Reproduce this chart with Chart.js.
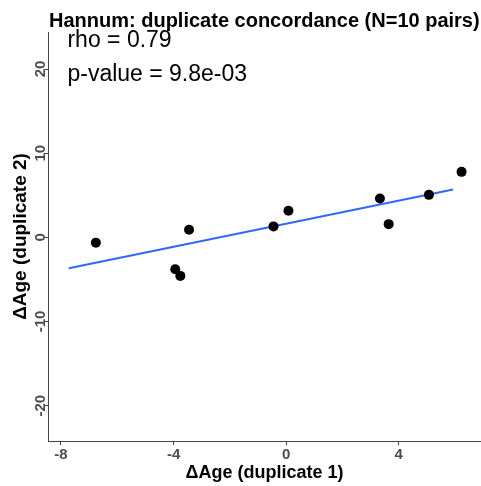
<!DOCTYPE html>
<html>
<head>
<meta charset="utf-8">
<script src="https://cdn.jsdelivr.net/npm/chart.js@4.4.0/dist/chart.umd.min.js"></script>
<style>
  html, body { margin: 0; padding: 0; background: #ffffff; }
  #wrap { width: 481px; height: 486px; }
</style>
</head>
<body>
<div id="wrap"><canvas id="chart" width="481" height="486"></canvas></div>
<script>
// Data
const dup1 = [-6.76, -3.94, -3.76, -3.45, -0.45, 0.08, 3.33, 3.64, 5.07, 6.23];
const dup2 = [-0.63, -3.79, -4.58, 0.91, 1.30, 3.16, 4.62, 1.57, 5.05, 7.78];
const fitX = [-7.72, 5.93];
const fitY = [-3.67, 5.68];
const xTicks = [-8, -4, 0, 4];
const yTicks = [-20, -10, 0, 10, 20];
const titleText = 'Hannum: duplicate concordance (N=10 pairs)';
const statLines = ['rho = 0.79', 'p-value = 9.8e-03'];
const statPos = [[-7.77, 22.6], [-7.77, 18.6]];

const FONT = '"Liberation Sans", Arial, sans-serif';

// Title, annotations and rotated y tick labels
const extrasPlugin = {
    id: 'extras',
    afterDraw(chart) {
        const ctx = chart.ctx;
        const area = chart.chartArea;
        const xs = chart.scales.x;
        const ys = chart.scales.y;
        ctx.save();

        // Title
        ctx.fillStyle = '#000000';
        ctx.font = 'bold 20px ' + FONT;
        ctx.textAlign = 'left';
        ctx.textBaseline = 'alphabetic';
        ctx.fillText(titleText, area.left + 1, 27);

        // rho / p-value
        ctx.font = '23px ' + FONT;
        statLines.forEach((txt, i) => {
            ctx.fillText(txt, xs.getPixelForValue(statPos[i][0]), ys.getPixelForValue(statPos[i][1]));
        });

        // y tick labels, rotated
        ctx.fillStyle = '#4d4d4d';
        ctx.font = 'bold 15px ' + FONT;
        ctx.textAlign = 'center';
        ctx.textBaseline = 'alphabetic';
        yTicks.forEach(v => {
            const py = ys.getPixelForValue(v);
            ctx.save();
            ctx.translate(area.left - 3, py);
            ctx.rotate(-Math.PI / 2);
            ctx.fillText(String(v), 0, 0);
            ctx.restore();
        });
        ctx.restore();
    }
};

const ctx = document.getElementById('chart').getContext('2d');
new Chart(ctx, {
    type: 'scatter',
    data: {
        datasets: [
            {
                type: 'line',
                data: fitX.map((x, i) => ({ x: x, y: fitY[i] })),
                borderColor: '#3366ff',
                borderWidth: 2,
                pointRadius: 0,
                fill: false,
                order: 2
            },
            {
                data: dup1.map((x, i) => ({ x: x, y: dup2[i] })),
                backgroundColor: '#000000',
                borderColor: '#000000',
                pointRadius: 5,
                borderWidth: 0,
                order: 1
            }
        ]
    },
    plugins: [extrasPlugin],
    options: {
        responsive: false,
        animation: false,
        layout: { autoPadding: false, padding: { top: 32, right: 0, left: 0, bottom: 0 } },
        plugins: {
            legend: { display: false },
            tooltip: { enabled: false },
            title: { display: false }
        },
        scales: {
            x: {
                type: 'linear',
                min: -8.46,
                max: 6.92,
                afterBuildTicks(scale) {
                    scale.ticks = xTicks.map(v => ({ value: v }));
                },
                afterFit(scale) {
                    scale.height = 45;
                    scale.paddingLeft = 0;
                    scale.paddingRight = 0;
                },
                border: { display: true, color: '#444444', width: 1 },
                grid: {
                    display: true,
                    drawOnChartArea: false,
                    drawTicks: true,
                    tickLength: 4,
                    color: '#444444'
                },
                ticks: {
                    color: '#4d4d4d',
                    font: { family: FONT, size: 15, weight: 'bold' },
                    padding: 1,
                    maxRotation: 0
                },
                title: {
                    display: true,
                    text: 'ΔAge (duplicate 1)',
                    color: '#000000',
                    font: { family: FONT, size: 18, weight: 'bold' },
                    padding: { top: 0, bottom: 2 }
                }
            },
            y: {
                type: 'linear',
                min: -24.2,
                max: 24.4,
                afterBuildTicks(scale) {
                    scale.ticks = yTicks.map(v => ({ value: v }));
                },
                afterFit(scale) {
                    scale.width = 48;
                    scale.paddingTop = 0;
                    scale.paddingBottom = 0;
                },
                border: { display: true, color: '#444444', width: 1 },
                grid: {
                    display: true,
                    drawOnChartArea: false,
                    drawTicks: true,
                    tickLength: 4,
                    color: '#444444'
                },
                ticks: { display: false },
                title: {
                    display: true,
                    text: 'ΔAge (duplicate 2)',
                    color: '#000000',
                    font: { family: FONT, size: 19, weight: 'bold' },
                    padding: { top: 9, bottom: 0 }
                }
            }
        }
    }
});
</script>
</body>
</html>
